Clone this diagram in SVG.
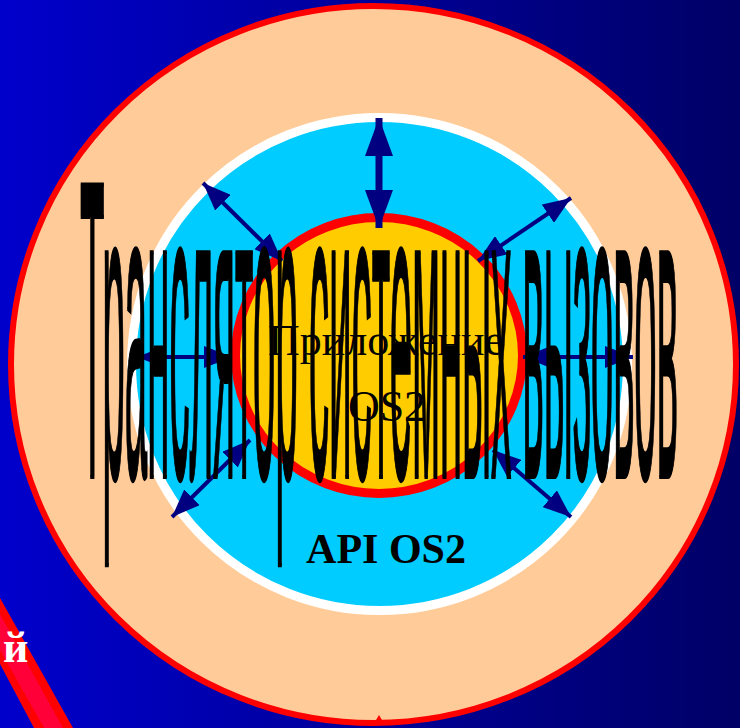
<svg xmlns="http://www.w3.org/2000/svg" width="740" height="728" viewBox="0 0 740 728">
<defs>
<linearGradient id="bg" x1="0" y1="0" x2="1" y2="0">
<stop offset="0" stop-color="#0000cc"/>
<stop offset="1" stop-color="#000066"/>
</linearGradient>
<marker id="ah" markerUnits="userSpaceOnUse" markerWidth="28" markerHeight="22" refX="28" refY="11" orient="auto-start-reverse" viewBox="0 0 28 22">
<path d="M0,0 L28,11 L0,22 z" fill="#000080"/>
</marker>
<marker id="ahBig" markerUnits="userSpaceOnUse" markerWidth="38" markerHeight="28" refX="38" refY="14" orient="auto-start-reverse" viewBox="0 0 38 28">
<path d="M0,0 L38,14 L0,28 z" fill="#000080"/>
</marker>
<style>
.arr{stroke:#000080;stroke-width:4;fill:none;marker-start:url(#ah);marker-end:url(#ah)}
.arrBig{stroke:#000080;stroke-width:7;fill:none;marker-start:url(#ahBig);marker-end:url(#ahBig)}
.serif{font-family:"Liberation Serif","Times New Roman",serif}
.big{font-family:"Liberation Sans",Arial,sans-serif;font-size:100px;fill:#000;stroke:#000;stroke-width:3;vector-effect:non-scaling-stroke}
</style>
</defs>
<rect x="0" y="0" width="740" height="728" fill="url(#bg)"/>
<g id="band">
<polygon points="0,598 73,728 34,728 0,664" fill="#ff0000"/>
<polygon points="0,614 63,728 44,728 0,650" fill="#ff0038"/>
<text x="3" y="662" class="serif" font-size="44" font-weight="bold" fill="#ffffff">й</text>
</g>
<g id="translator">
<ellipse cx="373.5" cy="364.5" rx="362.5" ry="358.5" fill="#ffcc99" stroke="#ff0000" stroke-width="6"/>
<polygon points="376,720 382,720 379,715" fill="#ff0000"/>
</g>
<g id="api">
<ellipse cx="379.5" cy="364" rx="248" ry="246.5" fill="#00ccff" stroke="#ffffff" stroke-width="9"/>
</g>
<g id="app">
<ellipse cx="379" cy="355.5" rx="143.5" ry="138" fill="#ffcc00" stroke="#ff0000" stroke-width="9"/>
</g>
<g id="connectors">
<line class="arrBig" x1="379" y1="118" x2="379" y2="228"/>
<line class="arr" x1="203" y1="183" x2="282" y2="261"/>
<line class="arr" x1="571" y1="198" x2="478" y2="261"/>
<line class="arr" x1="137" y1="357" x2="232" y2="357"/>
<line class="arr" x1="633" y1="357" x2="523" y2="357"/>
<line class="arr" x1="172" y1="517" x2="250" y2="440"/>
<line class="arr" x1="571" y1="517" x2="493" y2="450"/>
</g>
<g id="labels">
<text x="386" y="355" class="serif" font-size="44" text-anchor="middle">Приложение</text>
<text x="387" y="421" class="serif" font-size="44" text-anchor="middle">OS2</text>
<text x="386" y="563" class="serif" font-size="42" font-weight="bold" text-anchor="middle">API OS2</text>
</g>
<g id="title">
<text class="big" transform="translate(80,477) scale(0.403,4.25)" x="0" y="0" textLength="1484" lengthAdjust="spacingAndGlyphs">Транслятор системных вызовов</text>
</g>
</svg>
